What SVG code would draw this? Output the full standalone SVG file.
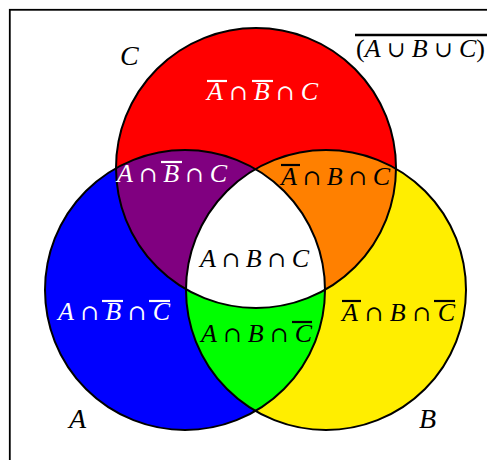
<svg xmlns="http://www.w3.org/2000/svg" width="487" height="460" viewBox="0 0 487 460">
<style>
.t{font-family:"Liberation Serif","DejaVu Serif",serif;font-size:26px}
.lbl{font-family:"Liberation Serif","DejaVu Serif",serif;font-size:28px;font-style:italic;fill:#000}
.i{font-style:italic}
.o{font-family:"DejaVu Serif",serif;font-size:22px}
.w{fill:#fff}
.k{fill:#000}
.ovw{stroke:#fff;stroke-width:2.2}
.ovk{stroke:#000;stroke-width:2.2}
.edge{fill:none;stroke:#000;stroke-width:2}
</style>
<defs>
<circle id="cA" cx="185" cy="290" r="140"/>
<circle id="cB" cx="326" cy="290" r="140"/>
<circle id="cC" cx="256" cy="168" r="140"/>
<clipPath id="clipA"><use href="#cA"/></clipPath>
<clipPath id="clipB"><use href="#cB"/></clipPath>
<clipPath id="clipC"><use href="#cC"/></clipPath>
</defs>
<rect x="9.8" y="9.8" width="520" height="520" fill="#fff" stroke="#000" stroke-width="1.8"/>
<g id="regions">
<use href="#cA" fill="#0000ff"/>
<use href="#cB" fill="#ffee00"/>
<use href="#cC" fill="#ff0000"/>
<g clip-path="url(#clipA)"><use href="#cB" fill="#00ff00"/></g>
<g clip-path="url(#clipA)"><use href="#cC" fill="#800080"/></g>
<g clip-path="url(#clipB)"><use href="#cC" fill="#ff8000"/></g>
<g clip-path="url(#clipA)"><g clip-path="url(#clipB)"><use href="#cC" fill="#ffffff"/></g></g>
</g>
<g id="outlines">
<use href="#cA" class="edge"/>
<use href="#cB" class="edge"/>
<use href="#cC" class="edge"/>
</g>
<g id="set-labels">
<text class="lbl" x="120" y="65">C</text>
<text class="lbl" x="69" y="428">A</text>
<text class="lbl" x="419" y="428">B</text>
</g>
<g id="complement">
<text class="t k" x="356" y="57" textLength="129" lengthAdjust="spacing">(<tspan class="i">A</tspan> <tspan class="o">∪</tspan> <tspan class="i">B</tspan> <tspan class="o">∪</tspan> <tspan class="i">C</tspan>)</text>
<line class="ovk" x1="355" y1="35" x2="490" y2="35" style="stroke-width:2.6"/>
</g>
<g id="r-C-only">
<text class="t w" x="207" y="100" textLength="111" lengthAdjust="spacing"><tspan class="i">A</tspan> <tspan class="o">∩</tspan> <tspan class="i">B</tspan> <tspan class="o">∩</tspan> <tspan class="i">C</tspan></text>
<line class="ovw" x1="207" y1="81" x2="227" y2="81"/>
<line class="ovw" x1="252" y1="81" x2="273" y2="81"/>
</g>
<g id="r-AC">
<text class="t w" x="117" y="182" textLength="110" lengthAdjust="spacing"><tspan class="i">A</tspan> <tspan class="o">∩</tspan> <tspan class="i">B</tspan> <tspan class="o">∩</tspan> <tspan class="i">C</tspan></text>
<line class="ovw" x1="161" y1="162" x2="182" y2="162"/>
</g>
<g id="r-BC">
<text class="t k" x="281" y="185" textLength="109" lengthAdjust="spacing"><tspan class="i">A</tspan> <tspan class="o">∩</tspan> <tspan class="i">B</tspan> <tspan class="o">∩</tspan> <tspan class="i">C</tspan></text>
<line class="ovk" x1="281" y1="165" x2="300" y2="165"/>
</g>
<g id="r-ABC">
<text class="t k" x="200" y="267" textLength="109" lengthAdjust="spacing"><tspan class="i">A</tspan> <tspan class="o">∩</tspan> <tspan class="i">B</tspan> <tspan class="o">∩</tspan> <tspan class="i">C</tspan></text>
</g>
<g id="r-A-only">
<text class="t w" x="58" y="320" textLength="112" lengthAdjust="spacing"><tspan class="i">A</tspan> <tspan class="o">∩</tspan> <tspan class="i">B</tspan> <tspan class="o">∩</tspan> <tspan class="i">C</tspan></text>
<line class="ovw" x1="102" y1="301" x2="123" y2="301"/>
<line class="ovw" x1="149" y1="301" x2="170" y2="301"/>
</g>
<g id="r-AB">
<text class="t k" x="201" y="342" textLength="111" lengthAdjust="spacing"><tspan class="i">A</tspan> <tspan class="o">∩</tspan> <tspan class="i">B</tspan> <tspan class="o">∩</tspan> <tspan class="i">C</tspan></text>
<line class="ovk" x1="292" y1="322" x2="312" y2="322"/>
</g>
<g id="r-B-only">
<text class="t k" x="342" y="321" textLength="113" lengthAdjust="spacing"><tspan class="i">A</tspan> <tspan class="o">∩</tspan> <tspan class="i">B</tspan> <tspan class="o">∩</tspan> <tspan class="i">C</tspan></text>
<line class="ovk" x1="342" y1="301" x2="361" y2="301"/>
<line class="ovk" x1="434" y1="301" x2="455" y2="301"/>
</g>
</svg>
